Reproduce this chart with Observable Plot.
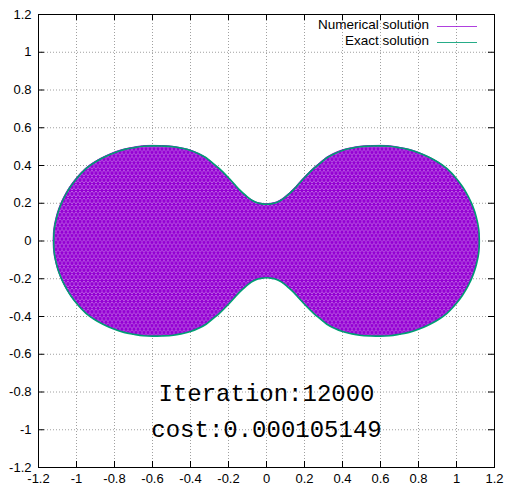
<!DOCTYPE html>
<html><head><meta charset="utf-8">
<script src="https://cdn.jsdelivr.net/npm/d3@7"></script>
<script src="https://cdn.jsdelivr.net/npm/@observablehq/plot@0.6"></script>
<style>body{margin:0;background:#fff}#chart{width:508px;height:486px}</style>
</head><body><div id="chart"></div>
<script>
// ---- data ----
const xTicks = [-1.2, -1, -0.8, -0.6, -0.4, -0.2, 0, 0.2, 0.4, 0.6, 0.8, 1, 1.2];
const yTicks = [-1.2, -1, -0.8, -0.6, -0.4, -0.2, 0, 0.2, 0.4, 0.6, 0.8, 1, 1.2];
const boundaryX = [-1.12, -1.119, -1.115, -1.108, -1.10, -1.09, -1.08, -1.065, -1.05, -1.03, -1.00, -0.95, -0.89, -0.85, -0.80, -0.75, -0.70, -0.65, -0.60, -0.55, -0.49, -0.45, -0.40, -0.36, -0.318, -0.28, -0.248, -0.20, -0.17, -0.143, -0.108, -0.08, -0.056, -0.03, 0,
                    0.03, 0.056, 0.08, 0.108, 0.143, 0.17, 0.20, 0.248, 0.28, 0.318, 0.36, 0.40, 0.45, 0.49, 0.55, 0.60, 0.65, 0.70, 0.75, 0.80, 0.85, 0.89, 0.95, 1.00, 1.03, 1.05, 1.065, 1.08, 1.09, 1.10, 1.108, 1.115, 1.119, 1.12];
const upperY = [0, 0.04, 0.075, 0.11, 0.142, 0.172, 0.198, 0.23, 0.258, 0.29, 0.33, 0.383, 0.425, 0.446, 0.468, 0.484, 0.494, 0.502, 0.504, 0.503, 0.499, 0.492, 0.48, 0.464, 0.441, 0.41, 0.383, 0.335, 0.302, 0.272, 0.24, 0.218, 0.205, 0.198, 0.195,
                0.198, 0.205, 0.218, 0.24, 0.272, 0.302, 0.335, 0.383, 0.41, 0.441, 0.464, 0.48, 0.492, 0.499, 0.503, 0.504, 0.502, 0.494, 0.484, 0.468, 0.446, 0.425, 0.383, 0.33, 0.29, 0.258, 0.23, 0.198, 0.172, 0.142, 0.11, 0.075, 0.04, 0];
const lowerY = [0, -0.04, -0.075, -0.11, -0.142, -0.172, -0.198, -0.23, -0.258, -0.29, -0.33, -0.383, -0.425, -0.446, -0.468, -0.484, -0.494, -0.502, -0.504, -0.503, -0.499, -0.492, -0.48, -0.464, -0.441, -0.41, -0.383, -0.335, -0.302, -0.272, -0.24, -0.218, -0.205, -0.198, -0.195,
                -0.198, -0.205, -0.218, -0.24, -0.272, -0.302, -0.335, -0.383, -0.41, -0.441, -0.464, -0.48, -0.492, -0.499, -0.503, -0.504, -0.502, -0.494, -0.484, -0.468, -0.446, -0.425, -0.383, -0.33, -0.29, -0.258, -0.23, -0.198, -0.172, -0.142, -0.11, -0.075, -0.04, 0];
const seriesNames = ["Numerical solution", "Exact solution"];
const seriesColors = ["#9400d3", "#009e73"];
const annotations = ["Iteration:12000", "cost:0.000105149"];

// ---- layout ----
const W = 508, H = 486, mL = 38, mR = 14, mT = 14, mB = 19;
const frameH = H - mT - mB, frameW = W - mL - mR;
const tickLen = 6;
const font = "'Liberation Sans', Arial, Helvetica, sans-serif";
const mono = "'Liberation Mono', 'Courier New', monospace";
const fmt = d => String(Math.round(d * 10) / 10);
const pts = boundaryX.map((x, i) => ({x, yu: upperY[i], yl: lowerY[i]}));

const plot = Plot.plot({
  width: W, height: H,
  marginLeft: mL, marginRight: mR, marginTop: mT, marginBottom: mB,
  x: {domain: [-1.2, 1.2]},
  y: {domain: [-1.2, 1.2]},
  style: {fontFamily: font, fontSize: "13px", background: "white", color: "black", overflow: "visible"},
  marks: [
    Plot.gridX(xTicks, {stroke: "#a0a0a0", strokeOpacity: 1, strokeDasharray: "1,2"}),
    Plot.gridY(yTicks, {stroke: "#a0a0a0", strokeOpacity: 1, strokeDasharray: "1,2"}),
    Plot.areaY(pts, {x: "x", y1: "yl", y2: "yu", fill: "url(#meshPattern)", stroke: seriesColors[0], strokeWidth: 1, curve: "monotone-x"}),
    Plot.line(pts, {x: "x", y: "yu", stroke: seriesColors[1], strokeWidth: 1.6, curve: "monotone-x"}),
    Plot.line(pts, {x: "x", y: "yl", stroke: seriesColors[1], strokeWidth: 1.6, curve: "monotone-x"}),
    Plot.tickX(xTicks, {x: d => d, insetTop: frameH - tickLen, stroke: "black"}),
    Plot.tickX(xTicks, {x: d => d, insetBottom: frameH - tickLen, stroke: "black"}),
    Plot.tickY(yTicks, {y: d => d, insetRight: frameW - tickLen, stroke: "black"}),
    Plot.tickY(yTicks, {y: d => d, insetLeft: frameW - tickLen, stroke: "black"}),
    Plot.frame({stroke: "black", strokeWidth: 1}),
    Plot.axisX(xTicks, {tickSize: 0, tickPadding: 6, tickFormat: fmt, label: null}),
    Plot.axisY(yTicks, {tickSize: 0, tickPadding: 7, tickFormat: fmt, label: null}),
    Plot.text([annotations[0]], {text: d => d, frameAnchor: "bottom", lineAnchor: "middle", dy: -73.7, fontFamily: mono, fontSize: 24, fill: "black"}),
    Plot.text([annotations[1]], {text: d => d, frameAnchor: "bottom", lineAnchor: "middle", dy: -37.7, fontFamily: mono, fontSize: 24, fill: "black"})
  ]
});

// mesh texture (style) for the numerical solution fill
const svg = d3.select(plot);
const defs = svg.insert("defs", ":first-child");
const h = 3.464;
const pat = defs.append("pattern").attr("id", "meshPattern")
  .attr("patternUnits", "userSpaceOnUse").attr("width", 4).attr("height", 2 * h);
pat.append("rect").attr("width", 4).attr("height", 2 * h).attr("fill", "white");
pat.append("path")
  .attr("d", `M0,0L4,${2 * h}M4,0L0,${2 * h}M-1,0H5M-1,${h}H5M-1,${2 * h}H5`)
  .attr("stroke", seriesColors[0]).attr("stroke-width", 1.5).attr("fill", "none");

// legend (top right, inside the frame)
const lg = svg.append("g").attr("font-family", font).attr("font-size", 13.5).attr("fill", "black");
seriesNames.forEach((name, i) => {
  const yb = mT + 14.7 + i * 16.3;
  lg.append("text").attr("x", W - mR - 65).attr("y", yb).attr("text-anchor", "end").text(name);
  lg.append("line").attr("x1", W - mR - 57).attr("x2", W - mR - 17)
    .attr("y1", Math.round(yb - 3) + 0.5).attr("y2", Math.round(yb - 3) + 0.5)
    .attr("stroke", seriesColors[i]).attr("stroke-width", 1.2).attr("stroke-opacity", i === 0 ? 0.75 : 0.85);
});

document.getElementById("chart").appendChild(plot);
</script>
</body></html>
